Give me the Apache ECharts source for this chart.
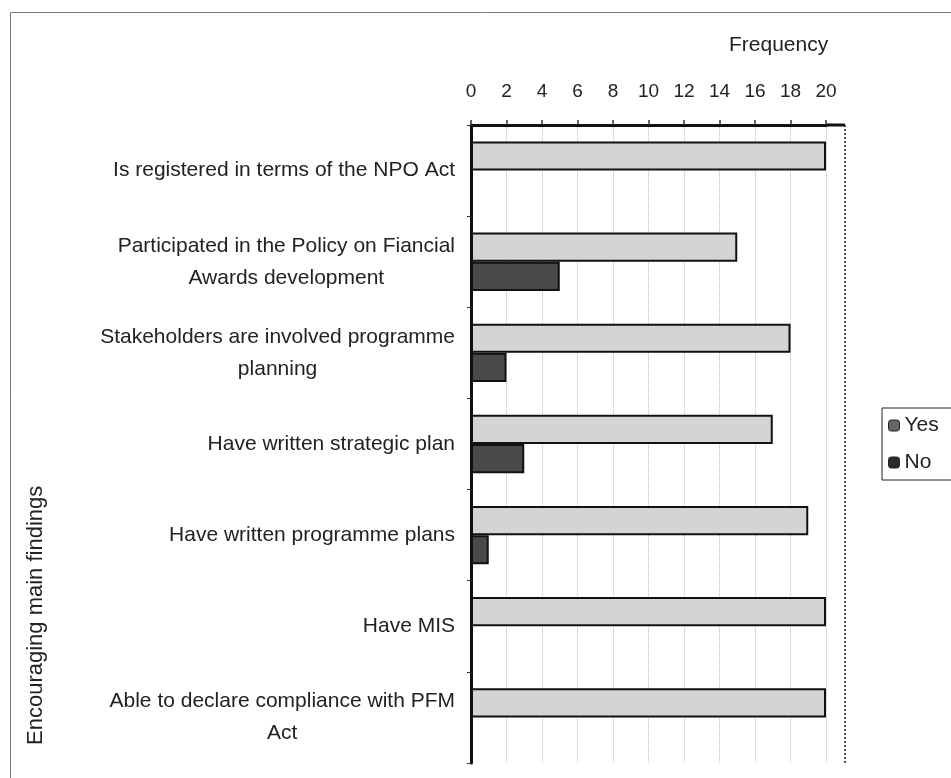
<!DOCTYPE html>
<html>
<head>
<meta charset="utf-8">
<style>
  html, body { margin: 0; padding: 0; background: #fff; }
  #chart { width: 951px; height: 778px; }
</style>
<script src="https://cdn.jsdelivr.net/npm/echarts@6/dist/echarts.min.js"></script>
</head>
<body>
<div id="chart"></div>
<script>
// Findings, listed top to bottom
const categories = [
  'Is registered in terms of the NPO Act',
  'Participated in the Policy on Fiancial\nAwards development',
  'Stakeholders are involved programme\nplanning',
  'Have written strategic plan',
  'Have written programme plans',
  'Have MIS',
  'Able to declare compliance with PFM\nAct'
];
const yesValues = [20, 15, 18, 17, 19, 20, 20];
const noValues  = [0, 5, 2, 3, 1, 0, 0];
const freqTicks = { min: 0, max: 20, interval: 2 };

const chart = echarts.init(document.getElementById('chart'));
const font = 'Liberation Sans, Arial, sans-serif';

chart.setOption({
  animation: false,
  backgroundColor: '#fff',
  textStyle: { fontFamily: font },
  grid: { left: 471, right: 125, top: 125, bottom: 15, containLabel: false },
  title: {
    text: 'Frequency',
    left: 729, top: 35,
    padding: 0,
    textStyle: { fontSize: 21, fontWeight: 'normal', color: '#222', fontFamily: font }
  },
  legend: {
    orient: 'vertical',
    left: 882, top: 408,
    itemWidth: 11, itemHeight: 11,
    itemGap: 16,
    padding: [7, 24, 7, 6],
    borderColor: '#222', borderWidth: 1,
    textStyle: { fontSize: 21, color: '#222', fontFamily: font },
    data: [
      { name: 'Yes', itemStyle: { color: '#666', borderColor: '#222', borderWidth: 1 } },
      { name: 'No', itemStyle: { color: '#2a2a2a', borderColor: '#222', borderWidth: 1 } }
    ]
  },
  xAxis: {
    type: 'value',
    position: 'top',
    min: freqTicks.min, max: freqTicks.max, interval: freqTicks.interval,
    axisLine: { show: true, lineStyle: { color: '#111', width: 3 } },
    axisTick: { show: true, length: 5, lineStyle: { color: '#333', width: 1.5 } },
    axisLabel: { fontSize: 19, color: '#222', margin: 24, fontFamily: font },
    splitLine: { show: true, lineStyle: { color: '#bbb', type: 'dotted', width: 1 } }
  },
  yAxis: {
    type: 'category',
    inverse: true,
    data: categories,
    axisLine: { show: true, lineStyle: { color: '#111', width: 3 } },
    axisTick: { show: true, length: 4, lineStyle: { color: '#333' } },
    axisLabel: {
      color: '#222', margin: 16, fontFamily: font,
      formatter: function (v) {
        return v.split('\n').map(function (s) { return '{c|' + s + '}'; }).join('\n');
      },
      rich: { c: { fontSize: 21, lineHeight: 32, align: 'center', color: '#222', fontFamily: font } }
    },
    splitLine: { show: false }
  },
  series: [
    {
      name: 'Yes', type: 'bar', data: yesValues,
      barGap: '0%', barCategoryGap: '36%',
      itemStyle: { color: '#d4d4d4', borderColor: '#111', borderWidth: 2 }
    },
    {
      name: 'No', type: 'bar', data: noValues,
      barGap: '0%', barCategoryGap: '36%',
      itemStyle: { color: '#4a4a4a', borderColor: '#111', borderWidth: 2 }
    }
  ],
  graphic: [
    {
      type: 'rect', left: 8, top: 10, silent: true,
      shape: { width: 960, height: 800 },
      style: { fill: 'none', stroke: '#777', lineWidth: 1 }
    },
    {
      type: 'line', silent: true,
      shape: { x1: 845, y1: 125, x2: 845, y2: 763 },
      style: { stroke: '#555', lineWidth: 2, lineDash: [2, 2] }
    },
    {
      type: 'line', silent: true,
      shape: { x1: 826, y1: 125, x2: 845, y2: 125 },
      style: { stroke: '#111', lineWidth: 3 }
    },
    {
      type: 'text', silent: true,
      x: 36, y: 745, rotation: Math.PI / 2,
      style: {
        text: 'Encouraging main findings',
        fill: '#222', fontSize: 22, fontFamily: font,
        align: 'left', verticalAlign: 'middle'
      }
    }
  ]
});
</script>
</body>
</html>
